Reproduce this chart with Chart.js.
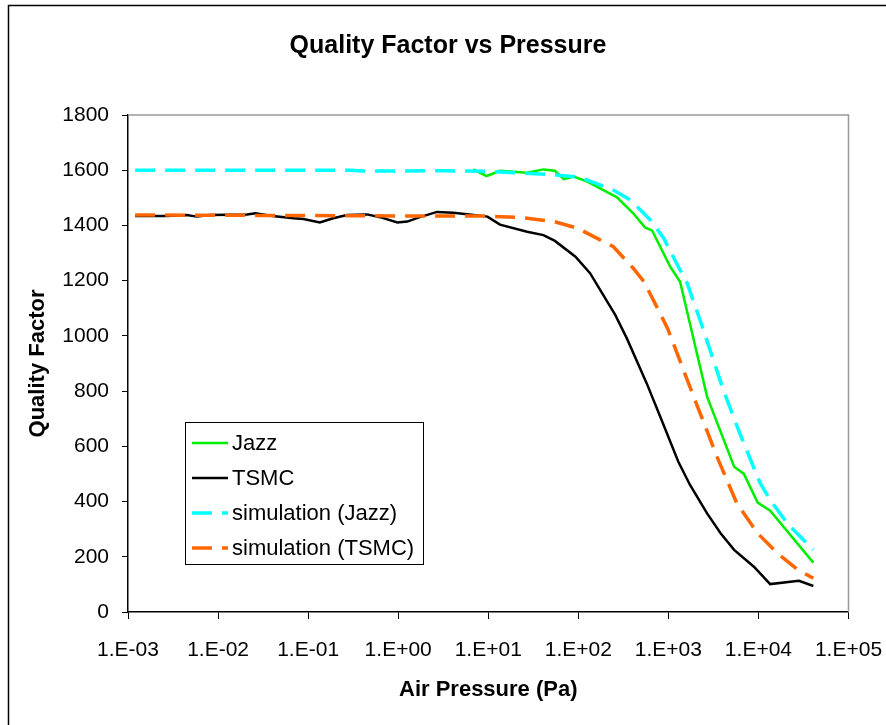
<html>
  <head>
    <title>Quality Factor vs Pressure</title>
    <script src="https://cdn.jsdelivr.net/npm/chart.js@4.4.1/dist/chart.umd.min.js"></script>
    <style>
      body { margin: 0; background: white; }
      #chart { display: block; }
    </style>
  </head>

  <body>
    <canvas id="chart" width="886" height="725"></canvas>
  </body>

  <script>
    // values (pressure in Pa, quality factor)
    var jazzP = [6.8, 9.6, 13.5, 27, 41, 55, 69, 89, 126, 269, 407, 550, 661, 1047, 1349, 2690, 5370, 6900, 9800, 13500, 40700];
    var jazzQ = [1603, 1579, 1598, 1591, 1603, 1598, 1568, 1577, 1559, 1502, 1444, 1393, 1381, 1251, 1196, 780, 526, 500, 396, 367, 179];

    var tsmcP = [0.0012, 0.0027, 0.0045, 0.0058, 0.0081, 0.021, 0.026, 0.038, 0.069, 0.089, 0.135, 0.19, 0.27, 0.45, 0.63, 0.98, 1.26, 1.74, 2.7, 4.1, 6.9, 9.8, 13.5, 27, 41, 55, 93, 135, 257, 347, 575, 813, 1290, 1740, 2690, 3800, 5370, 8900, 13500, 28200, 40700];
    var tsmcQ = [1434, 1434, 1438, 1432, 1438, 1440, 1444, 1435, 1426, 1423, 1411, 1426, 1438, 1440, 1430, 1411, 1414, 1430, 1449, 1446, 1438, 1432, 1403, 1377, 1365, 1344, 1287, 1227, 1076, 990, 828, 707, 544, 460, 357, 285, 225, 164, 101, 113, 94];

    var simJazzP = [0.0012, 0.3, 0.4, 3.3, 10, 57, 105, 245, 380, 490, 630, 890, 1260, 1620, 2455, 4074, 6310, 10471, 13500, 20893, 40700];
    var simJazzQ = [1600, 1600, 1597, 1598, 1596, 1583, 1574, 1528, 1492, 1456, 1420, 1353, 1257, 1190, 1021, 804, 641, 466, 406, 321, 225];

    var simTsmcP = [0.0012, 3.2, 9.5, 24.5, 54, 98, 162, 245, 407, 537, 741, 977, 1910, 3470, 5750, 9800, 16200, 26900, 40700];
    var simTsmcQ = [1438, 1434, 1434, 1428, 1414, 1390, 1353, 1323, 1245, 1196, 1106, 1028, 780, 562, 394, 285, 213, 155, 122];

    var seriesNames = ['Jazz', 'TSMC', 'simulation (Jazz)', 'simulation (TSMC)'];
    var xTickValues = [1e-3, 1e-2, 1e-1, 1e0, 1e1, 1e2, 1e3, 1e4, 1e5];
    var xTickLabels = ['1.E-03', '1.E-02', '1.E-01', '1.E+00', '1.E+01', '1.E+02', '1.E+03', '1.E+04', '1.E+05'];

    var FONT = "'Liberation Sans', Arial, sans-serif";

    function pts(px, qy) {
      return px.map(function (p, i) { return { x: p, y: qy[i] }; });
    }

    // gray top/right edge of the plot box, outer frame, white background
    var boxPlugin = {
      id: 'box',
      beforeDraw: function (chart) {
        var ctx = chart.ctx;
        ctx.save();
        ctx.fillStyle = 'white';
        ctx.fillRect(0, 0, chart.width, chart.height);
        ctx.restore();
      },
      beforeDatasetsDraw: function (chart) {
        var a = chart.chartArea, ctx = chart.ctx;
        ctx.save();
        ctx.strokeStyle = '#999';
        ctx.lineWidth = 1.5;
        ctx.beginPath();
        ctx.moveTo(a.left, a.top);
        ctx.lineTo(a.right, a.top);
        ctx.lineTo(a.right, a.bottom);
        ctx.stroke();
        ctx.restore();
      },
      afterDraw: function (chart) {
        var ctx = chart.ctx;
        ctx.save();
        ctx.strokeStyle = 'black';
        ctx.lineWidth = 1.5;
        ctx.beginPath();
        ctx.moveTo(8.5, chart.height + 5);
        ctx.lineTo(8.5, 5.5);
        ctx.lineTo(chart.width + 5, 5.5);
        ctx.stroke();
        ctx.restore();
      }
    };

    // legend box inside the plot, like the original
    var boxLegend = {
      id: 'boxLegend',
      afterDatasetsDraw: function (chart) {
        var ctx = chart.ctx;
        var bx = 185, by = 422, bw = 238, bh = 142;
        ctx.save();
        ctx.fillStyle = 'white';
        ctx.fillRect(bx, by, bw, bh);
        ctx.strokeStyle = 'black';
        ctx.lineWidth = 1;
        ctx.strokeRect(bx + 0.5, by + 0.5, bw, bh);
        ctx.font = '22px ' + FONT;
        ctx.textBaseline = 'middle';
        ctx.fillStyle = 'black';
        chart.data.datasets.forEach(function (ds, i) {
          var y = 443 + i * 35;
          ctx.strokeStyle = ds.borderColor;
          ctx.lineWidth = ds.borderWidth;
          ctx.setLineDash(ds.borderDash || []);
          ctx.beginPath();
          ctx.moveTo(192, y);
          ctx.lineTo(228, y);
          ctx.stroke();
          ctx.setLineDash([]);
          ctx.fillText(ds.label, 232, y + 1);
        });
        ctx.restore();
      }
    };

    new Chart(document.getElementById('chart'), {
      type: 'line',
      data: {
        datasets: [
          { label: seriesNames[0], data: pts(jazzP, jazzQ), borderColor: '#00ee00', borderWidth: 2.5, order: 3 },
          { label: seriesNames[1], data: pts(tsmcP, tsmcQ), borderColor: '#000000', borderWidth: 2.5, order: 2 },
          { label: seriesNames[2], data: pts(simJazzP, simJazzQ), borderColor: '#00ffff', borderWidth: 3.5, borderDash: [20, 10], order: 1 },
          { label: seriesNames[3], data: pts(simTsmcP, simTsmcQ), borderColor: '#ff6600', borderWidth: 3.5, borderDash: [20, 10], order: 0 }
        ]
      },
      options: {
        responsive: false,
        animation: false,
        layout: { padding: { left: 10, right: 0, top: 0, bottom: 0 } },
        elements: {
          point: { radius: 0 },
          line: { tension: 0, fill: false }
        },
        plugins: {
          legend: { display: false },
          tooltip: { enabled: false },
          title: {
            display: true,
            text: 'Quality Factor vs Pressure',
            color: 'black',
            font: { family: FONT, size: 25, weight: 'bold' },
            padding: { top: 31, bottom: 54 }
          }
        },
        scales: {
          x: {
            type: 'logarithmic',
            min: 1e-3,
            max: 1e5,
            afterBuildTicks: function (scale) {
              scale.ticks = xTickValues.map(function (v) { return { value: v }; });
            },
            afterFit: function (scale) {
              scale.height = 113;
              scale.paddingLeft = 0;
              scale.paddingRight = 37.5;
            },
            ticks: {
              autoSkip: false,
              maxRotation: 0,
              color: 'black',
              padding: 19,
              font: { family: FONT, size: 21 },
              callback: function (v, i) { return xTickLabels[i]; }
            },
            grid: { drawOnChartArea: false, drawTicks: true, tickLength: 7, tickColor: 'black' },
            border: { color: 'black', width: 1.5 },
            title: {
              display: true,
              text: 'Air Pressure (Pa)',
              color: 'black',
              font: { family: FONT, size: 22, weight: 'bold' },
              padding: { top: 0, bottom: 22 }
            }
          },
          y: {
            min: 0,
            max: 1800,
            afterFit: function (scale) {
              scale.width = 118;
            },
            ticks: {
              stepSize: 200,
              color: 'black',
              padding: 13,
              font: { family: FONT, size: 21 },
              callback: function (v) { return String(v); }
            },
            grid: { drawOnChartArea: false, drawTicks: true, tickLength: 6, tickColor: 'black' },
            border: { color: 'black', width: 1.5 },
            title: {
              display: true,
              text: 'Quality Factor',
              color: 'black',
              font: { family: FONT, size: 22, weight: 'bold' },
              padding: { top: 15, bottom: 0 }
            }
          }
        }
      },
      plugins: [boxPlugin, boxLegend]
    });
  </script>

</html>
